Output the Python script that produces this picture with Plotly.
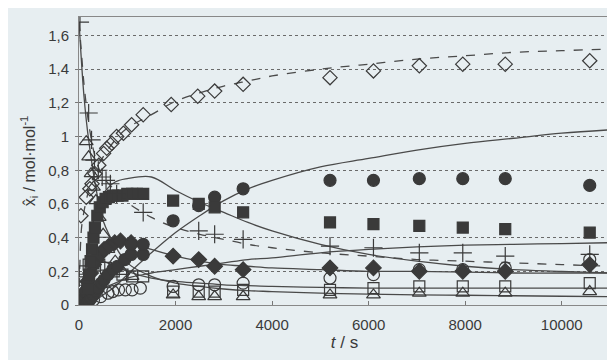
import plotly.graph_objects as go

# ---------------- data ----------------
diamond_t = [40, 150, 225, 270, 330, 410, 510, 575, 680, 780, 920, 1090, 1330, 1910, 2460, 2810, 3400, 5200, 6100, 7050, 7950, 8830, 10580]
diamond_x = [0.53, 0.64, 0.69, 0.72, 0.78, 0.83, 0.90, 0.93, 0.96, 1.00, 1.02, 1.07, 1.13, 1.19, 1.24, 1.27, 1.31, 1.35, 1.39, 1.42, 1.43, 1.43, 1.45]

plus_t = [20, 200, 260, 320, 400, 480, 560, 650, 780, 1330, 2480, 2810, 3400, 5200, 6100, 7050, 7950, 8830, 10580]
plus_x = [1.68, 1.14, 0.98, 0.86, 0.80, 0.76, 0.74, 0.72, 0.66, 0.55, 0.44, 0.42, 0.39, 0.35, 0.34, 0.31, 0.31, 0.29, 0.30]

fsquare_t = [180, 210, 240, 270, 300, 330, 380, 430, 490, 550, 620, 700, 800, 900, 1000, 1100, 1200, 1330, 1950, 2480, 2810, 3400, 5200, 6100, 7050, 7950, 8830, 10580]
fsquare_x = [0.10, 0.18, 0.26, 0.33, 0.40, 0.46, 0.53, 0.58, 0.61, 0.63, 0.64, 0.65, 0.65, 0.65, 0.66, 0.66, 0.66, 0.66, 0.62, 0.60, 0.58, 0.55, 0.49, 0.48, 0.47, 0.46, 0.45, 0.43]

fcircle_t = [150, 200, 250, 300, 350, 400, 460, 520, 600, 700, 800, 950, 1080, 1080, 1330, 1330, 1950, 2480, 2810, 3400, 5200, 6100, 7050, 7950, 8830, 10580]
fcircle_x = [0.01, 0.02, 0.04, 0.06, 0.08, 0.10, 0.13, 0.15, 0.18, 0.21, 0.23, 0.27, 0.30, 0.36, 0.30, 0.36, 0.50, 0.59, 0.64, 0.69, 0.74, 0.74, 0.75, 0.75, 0.75, 0.71]

fdiamond_t = [60, 120, 180, 240, 300, 360, 430, 520, 620, 740, 860, 1080, 1950, 2480, 2810, 3400, 5200, 6100, 7050, 7950, 8830, 10580]
fdiamond_x = [0.03, 0.08, 0.14, 0.19, 0.24, 0.27, 0.30, 0.33, 0.35, 0.37, 0.38, 0.37, 0.29, 0.27, 0.23, 0.21, 0.22, 0.22, 0.20, 0.20, 0.20, 0.24]

ocircle_t = [300, 450, 600, 700, 820, 960, 1100, 1270, 1950, 2480, 2810, 3400, 5200, 6100, 7050, 7950, 8830, 10580]
ocircle_x = [0.03, 0.05, 0.07, 0.08, 0.09, 0.09, 0.09, 0.10, 0.11, 0.12, 0.12, 0.13, 0.16, 0.18, 0.21, 0.21, 0.22, 0.27]

osquare_t = [60, 120, 200, 300, 420, 560, 720, 900, 1100, 1330, 1950, 2480, 2810, 3400, 5200, 6100, 7050, 7950, 8830, 10580]
osquare_x = [0.15, 0.20, 0.24, 0.25, 0.24, 0.22, 0.20, 0.18, 0.17, 0.17, 0.08, 0.08, 0.08, 0.09, 0.09, 0.10, 0.11, 0.11, 0.11, 0.13]

otri_t = [150, 200, 250, 300, 350, 420, 500, 600, 750, 900, 1100, 1950, 2480, 2810, 3400, 5200, 6100, 7050, 7950, 8830, 10580]
otri_x = [0.97, 0.88, 0.78, 0.70, 0.62, 0.52, 0.42, 0.33, 0.26, 0.20, 0.17, 0.06, 0.05, 0.05, 0.05, 0.06, 0.06, 0.07, 0.07, 0.07, 0.08]

# model curves, read at these times
model_t = [0, 50, 100, 150, 200, 300, 400, 500, 750, 1000, 1500, 2000, 2500, 3000, 3500, 4000, 5000, 6000, 7000, 8000, 9000, 10000, 11000]
fit_diamond = [0.0, 0.45, 0.55, 0.62, 0.68, 0.76, 0.83, 0.88, 0.98, 1.05, 1.13, 1.21, 1.26, 1.30, 1.33, 1.36, 1.40, 1.43, 1.46, 1.48, 1.50, 1.51, 1.52]
fit_plus = [1.68, 1.50, 1.32, 1.19, 1.08, 0.92, 0.82, 0.76, 0.68, 0.61, 0.52, 0.46, 0.42, 0.39, 0.36, 0.34, 0.31, 0.29, 0.27, 0.26, 0.25, 0.24, 0.23]
fit_tri = [1.68, 1.45, 1.25, 1.10, 0.98, 0.78, 0.62, 0.50, 0.35, 0.25, 0.17, 0.13, 0.11, 0.095, 0.085, 0.08, 0.07, 0.065, 0.06, 0.058, 0.055, 0.052, 0.05]
fit_fsquare = [0.0, 0.08, 0.17, 0.26, 0.35, 0.50, 0.60, 0.66, 0.73, 0.75, 0.76, 0.68, 0.61, 0.55, 0.49, 0.44, 0.36, 0.30, 0.26, 0.23, 0.21, 0.20, 0.19]
fit_fcircle = [0.0, 0.0, 0.005, 0.01, 0.015, 0.03, 0.04, 0.06, 0.11, 0.18, 0.31, 0.43, 0.53, 0.62, 0.69, 0.74, 0.82, 0.87, 0.92, 0.96, 0.99, 1.02, 1.04]
fit_fdiamond = [0.0, 0.06, 0.12, 0.17, 0.21, 0.28, 0.33, 0.36, 0.39, 0.38, 0.33, 0.29, 0.26, 0.24, 0.23, 0.22, 0.21, 0.20, 0.20, 0.195, 0.19, 0.19, 0.19]
fit_ocircle = [0.0, 0.01, 0.02, 0.03, 0.04, 0.06, 0.08, 0.10, 0.13, 0.16, 0.19, 0.21, 0.23, 0.25, 0.27, 0.28, 0.31, 0.33, 0.345, 0.355, 0.36, 0.365, 0.37]
fit_osquare = [0.0, 0.10, 0.18, 0.22, 0.25, 0.27, 0.27, 0.26, 0.23, 0.20, 0.16, 0.14, 0.13, 0.12, 0.115, 0.11, 0.105, 0.10, 0.10, 0.10, 0.10, 0.10, 0.10]

x_tickvals = [0, 2000, 4000, 6000, 8000, 10000]
x_ticktext = ["0", "2000", "4000", "6000", "8000", "10000"]
y_tickvals = [0, 0.2, 0.4, 0.6, 0.8, 1.0, 1.2, 1.4, 1.6]
y_ticktext = ["0", "0,2", "0,4", "0,6", "0,8", "1", "1,2", "1,4", "1,6"]

# ---------------- styles ----------------
BG = "#e7eef1"
INK = "#3a3a3a"
LINE = "#4a4a4a"

fig = go.Figure()

fits = [
    (fit_diamond, "dash"), (fit_plus, "dash"), (fit_tri, "solid"), (fit_fsquare, "solid"),
    (fit_fcircle, "solid"), (fit_fdiamond, "solid"), (fit_ocircle, "solid"), (fit_osquare, "solid"),
]
for vals, dash in fits:
    fig.add_trace(go.Scatter(x=model_t, y=vals, mode="lines", line_shape="spline",
                             line=dict(color=LINE, width=1.3, dash=dash), hoverinfo="skip"))

series = [
    (otri_t, otri_x, "triangle-up-open", 12),
    (osquare_t, osquare_x, "square-open", 11),
    (ocircle_t, ocircle_x, "circle-open", 12),
    (fdiamond_t, fdiamond_x, "diamond", 12),
    (fcircle_t, fcircle_x, "circle", 12),
    (fsquare_t, fsquare_x, "square", 11),
    (plus_t, plus_x, "cross-thin", 13),
    (diamond_t, diamond_x, "diamond-open", 11),
]
for t, v, sym, sz in series:
    fig.add_trace(go.Scatter(x=t, y=v, mode="markers",
                             marker=dict(symbol=sym, size=sz, color=INK,
                                         line=dict(color=INK, width=1.2))))

# the page body adds an 8 px offset, so the figure is a little smaller than the window
fig.update_layout(
    width=607, height=352,
    margin=dict(l=71, r=5, t=9, b=55),
    paper_bgcolor=BG, plot_bgcolor=BG,
    showlegend=False,
    font=dict(family="Liberation Sans, Arial, sans-serif", size=15, color=INK),
)
fig.update_xaxes(
    range=[0, 11000], tickvals=x_tickvals, ticktext=x_ticktext,
    ticks="inside", ticklen=4, tickcolor="#777", ticklabelstandoff=6,
    showgrid=False, zeroline=False, automargin=False,
    showline=True, linecolor="#888", linewidth=1, mirror=True,
    title=dict(text="<i>t</i> / s", standoff=2, font=dict(size=17)),
)
fig.update_yaxes(
    range=[0, 1.71], tickvals=y_tickvals, ticktext=y_ticktext,
    ticks="outside", ticklen=3, tickcolor="#777", ticklabelstandoff=3,
    showgrid=True, gridcolor="#6a6a6a", griddash="dot", gridwidth=1,
    zeroline=False, automargin=False,
    showline=True, linecolor="#888", linewidth=1, mirror=True,
    title=dict(text="x&#770;<sub>i</sub> / mol·mol<sup>-1</sup>", standoff=8, font=dict(size=16)),
)

fig.write_html("out.html")
